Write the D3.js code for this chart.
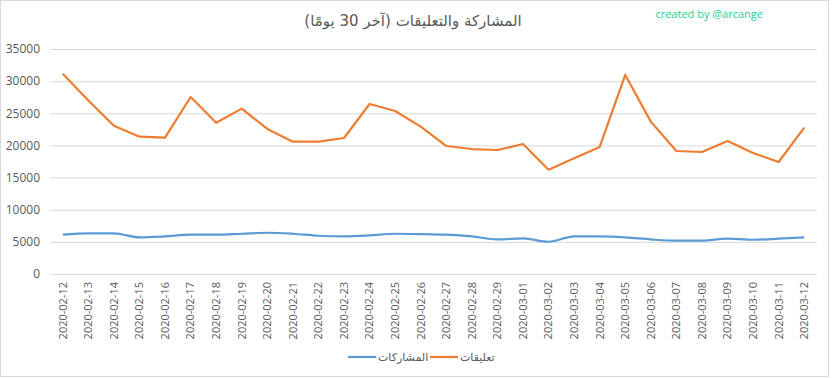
<!DOCTYPE html>
<html><head><meta charset="utf-8">
<script src="https://cdn.jsdelivr.net/npm/d3@7"></script>
<style>body{margin:0;background:#fff}svg{display:block}</style>
</head><body><svg id="c" width="832" height="378"></svg>
<script>
const dates = ["2020-02-12","2020-02-13","2020-02-14","2020-02-15","2020-02-16","2020-02-17","2020-02-18","2020-02-19","2020-02-20","2020-02-21","2020-02-22","2020-02-23","2020-02-24","2020-02-25","2020-02-26","2020-02-27","2020-02-28","2020-02-29","2020-03-01","2020-03-02","2020-03-03","2020-03-04","2020-03-05","2020-03-06","2020-03-07","2020-03-08","2020-03-09","2020-03-10","2020-03-11","2020-03-12"];
const shares = [6110,6320,6320,5700,5850,6110,6110,6260,6420,6260,5950,5850,6000,6260,6210,6110,5850,5380,5540,5020,5850,5850,5700,5380,5180,5180,5490,5330,5490,5700];
const comments = [31150,27000,23070,21360,21210,27530,23540,25720,22560,20580,20600,21160,26440,25360,22920,19910,19440,19290,20220,16230,17990,19760,30960,23700,19130,18980,20690,18820,17420,22770];
const yTicks = [0,5000,10000,15000,20000,25000,30000,35000];
const seriesNames = ["المشاركات","تعليقات"];
const title = "المشاركة والتعليقات (آخر 30 يومًا)";
const credit = "created by @arcange";

const svg = d3.select("#c");
const txt = "#595959", grid = "#d9d9d9";
const colors = ["#5B9BD5","#ED7D31"];
const font = "'Open Sans','DejaVu Sans',sans-serif";

svg.append("rect").attr("x",0.5).attr("y",0.5).attr("width",828).attr("height",376)
  .attr("fill","#fff").attr("stroke",grid);

const x = d3.scaleBand().domain(dates).range([50,817]);
const y = d3.scaleLinear().domain([0,35000]).range([274,49]);

const gy = svg.append("g").attr("transform","translate(50,0)")
  .call(d3.axisLeft(y).tickValues(yTicks).tickSize(-767).tickPadding(10).tickFormat(d3.format("d")));
gy.select(".domain").remove();
gy.selectAll(".tick line").attr("stroke",grid);
gy.selectAll(".tick text").attr("fill",txt).attr("font-size","12px").attr("font-family",font);

const gx = svg.append("g").attr("transform","translate(0,274)")
  .call(d3.axisBottom(x).tickSize(0).tickPadding(0));
gx.select(".domain").remove();
gx.selectAll(".tick text").attr("fill",txt).attr("font-size","11px").attr("font-family",font)
  .attr("transform","rotate(-90)").attr("text-anchor","end").attr("x",-8).attr("y",0).attr("dy","0.35em");

const cx = d => x(d) + x.bandwidth()/2;
svg.append("path").datum(shares).attr("fill","none").attr("stroke",colors[0]).attr("stroke-width",2.2)
  .attr("stroke-linejoin","round")
  .attr("d", d3.line().x((d,i)=>cx(dates[i])).y(d=>y(d)).curve(d3.curveMonotoneX));
svg.append("path").datum(comments).attr("fill","none").attr("stroke",colors[1]).attr("stroke-width",2.2)
  .attr("stroke-linejoin","round")
  .attr("d", d3.line().x((d,i)=>cx(dates[i])).y(d=>y(d)));

svg.append("text").attr("x",413).attr("y",26).attr("text-anchor","middle")
  .attr("fill",txt).attr("font-size","15px").attr("font-family","'DejaVu Sans',sans-serif").text(title);
svg.append("text").attr("x",763).attr("y",18).attr("text-anchor","end")
  .attr("fill","#1ccf9a").attr("font-size","11px").attr("font-family",font).text(credit);

const leg = [{c:colors[0],n:seriesNames[0],x:348},{c:colors[1],n:seriesNames[1],x:430}];
leg.forEach(l=>{
  svg.append("line").attr("x1",l.x).attr("x2",l.x+28).attr("y1",357).attr("y2",357)
    .attr("stroke",l.c).attr("stroke-width",2.2);
  svg.append("text").attr("x",l.x+30).attr("y",361).attr("fill",txt).attr("font-size","11px")
    .attr("font-family","'DejaVu Sans',sans-serif").text(l.n);
});
</script></body></html>
